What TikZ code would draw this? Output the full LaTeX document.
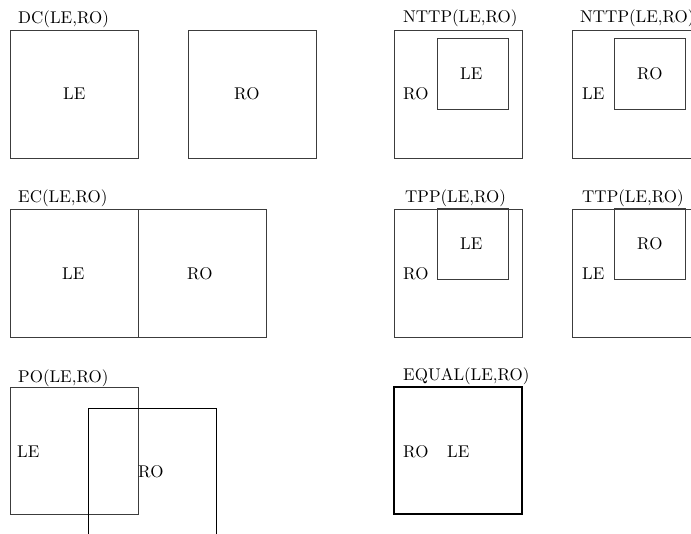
\documentclass[tikz,border=0pt]{standalone}
\usepackage{fontspec}
\setmainfont{lmroman10-regular}[Extension=.otf]
\definecolor{boxgray}{HTML}{3C3C3C}
\tikzset{
  region/.style={draw=boxgray, line width=0.85pt, minimum width=128pt, minimum height=128pt, inner sep=0pt},
  part/.style={draw=boxgray, line width=0.85pt, minimum width=71pt, minimum height=71pt, inner sep=0pt},
  lbl/.style={anchor=base west, inner sep=0pt, font=\fontsize{17}{19}\selectfont},
}
\begin{document}
\begin{tikzpicture}[x=1pt, y=-1pt]
  \useasboundingbox (0,0) rectangle (691,534);
  \clip (0,0) rectangle (691,534);

  % DC: disconnected
  \node[lbl] (dct) at (18,24) {DC(LE,RO)};
  \node[region] (dca) at (74,94) {};
  \node[region] (dcb) at (252,94) {};
  \node[lbl] (dcl) at (63,100) {LE};
  \node[lbl] (dcr) at (234,100) {RO};

  % NTTP: LE inside RO
  \node[lbl] (n1t) at (403,23) {NTTP(LE,RO)};
  \node[region] (n1o) at (458,94) {};
  \node[part] (n1i) at (472.5,73.5) {};
  \node[lbl] (n1l) at (460,80) {LE};
  \node[lbl] (n1r) at (403,100) {RO};

  % NTTP: RO inside LE
  \node[lbl] (n2t) at (580,23) {NTTP(LE,RO)};
  \node[region] (n2o) at (636,94) {};
  \node[part] (n2i) at (650,73.5) {};
  \node[lbl] (n2r) at (637,80) {RO};
  \node[lbl] (n2l) at (582,100) {LE};

  % EC: externally connected
  \node[lbl] (ect) at (18,203) {EC(LE,RO)};
  \node[region] (eca) at (74,273) {};
  \node[region] (ecb) at (202,273) {};
  \node[lbl] (ecl) at (62,280) {LE};
  \node[lbl] (ecr) at (187,280) {RO};

  % TPP: LE touches RO from inside
  \node[lbl] (tpt) at (405,203) {TPP(LE,RO)};
  \node[region] (tpo) at (458,273) {};
  \node[part] (tpi) at (472.5,244) {};
  \node[lbl] (tpl) at (460,250) {LE};
  \node[lbl] (tpr) at (403,280) {RO};

  % TTP: RO touches LE from inside
  \node[lbl] (ttt) at (582,203) {TTP(LE,RO)};
  \node[region] (tto) at (636,273) {};
  \node[part] (tti) at (650,244) {};
  \node[lbl] (ttr) at (637,250) {RO};
  \node[lbl] (ttl) at (582,280) {LE};

  % PO: partial overlap
  \node[lbl] (pot) at (18,383) {PO(LE,RO)};
  \node[region, minimum height=127pt] (poa) at (74,450.5) {};
  \node[draw=black, line width=0.75pt, minimum width=128pt, minimum height=132pt, inner sep=0pt] (pob) at (152,474) {};
  \node[lbl] (pol) at (17,457) {LE};
  \node[lbl] (por) at (138,478) {RO};

  % EQUAL
  \node[lbl] (eqt) at (403,381) {EQUAL(LE,RO)};
  \node[region, draw=black, line width=1.4pt, minimum height=127pt] (eqb) at (458,450.5) {};
  \node[lbl] (eqr) at (403,457) {RO};
  \node[lbl] (eql) at (447,457) {LE};
\end{tikzpicture}
\end{document}
